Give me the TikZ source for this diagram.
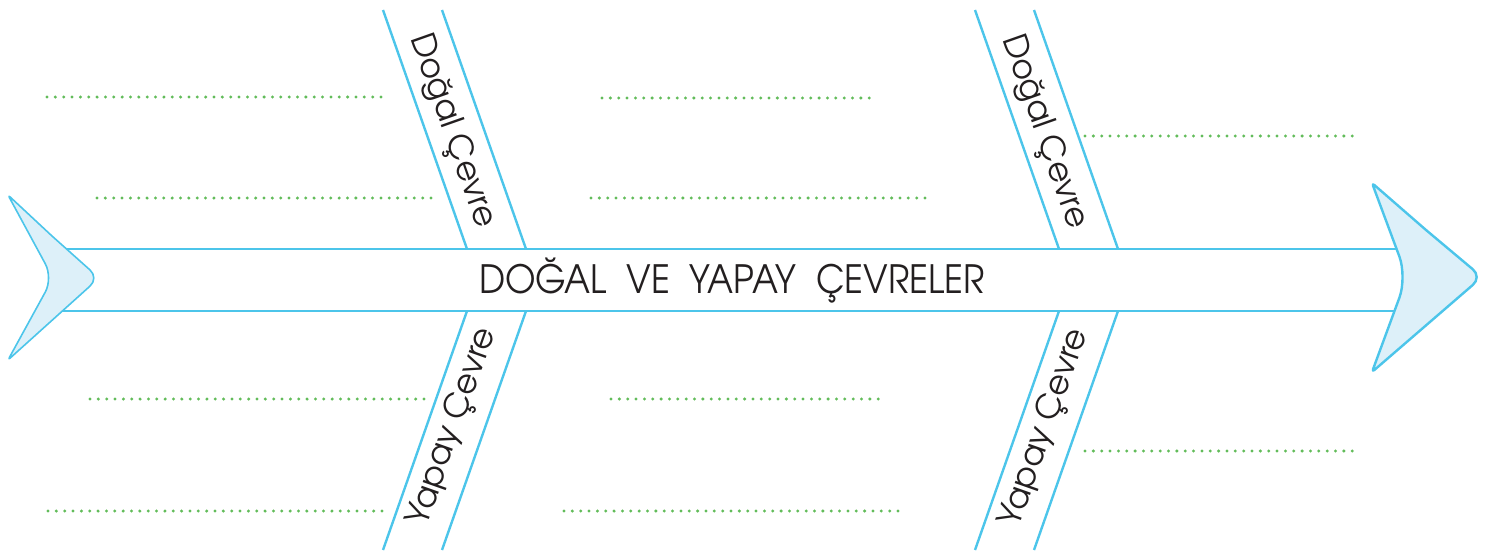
\documentclass[tikz,border=0pt]{standalone}
\usepackage{fontspec}
\setmainfont{TeX Gyre Adventor}
\newfontfamily\titlefont[FakeStretch=0.9]{TeX Gyre Adventor}
\definecolor{fishline}{HTML}{4CC5EA}
\definecolor{fishfill}{HTML}{DDF0F9}
\definecolor{dotgreen}{HTML}{62BC5A}
\definecolor{inkblack}{HTML}{231F20}

\begin{document}
\begin{tikzpicture}[x=1pt,y=-1pt,
  bone/.style={draw=fishline,line width=2.4pt},
  fin/.style={draw=fishline,fill=fishfill,line width=2pt,line join=round},
  dotrow/.style={draw=dotgreen,line width=3.3pt,line cap=round,dash pattern=on 0pt off 8.35pt},
  bandlabel/.style={text=inkblack,font=\fontsize{33}{33}\selectfont,inner sep=0pt},
  spinelabel/.style={text=inkblack,font=\titlefont\fontsize{39}{39}\selectfont,inner sep=0pt,anchor=base}]
  \useasboundingbox (0,0) rectangle (1493,552);

  % spine
  \path[bone] (60,249) -- (1400,249);
  \path[bone] (60,311) -- (1400,311);

  % tail and head
  \path[fin,line width=1.6pt] (52,236) [rounded corners=12pt] -- (99,278) [rounded corners=3pt] -- (8,360)
    [rounded corners=16pt] -- (53,278) [rounded corners=3pt] -- (8,195) -- cycle;
  \path[fin,line width=2.4pt] (1426,230) [rounded corners=12pt] -- (1482,277) [rounded corners=3pt] -- (1372,372)
    [rounded corners=22pt] -- (1407,277) [rounded corners=3pt] -- (1372,183) -- cycle;

  % bones
  \foreach \dx in {0,592} {
    \path[bone] (383+\dx,10) -- (467+\dx,249);
    \path[bone] (442+\dx,10) -- (526+\dx,249);
    \path[bone] (467+\dx,311) -- (383+\dx,550);
    \path[bone] (526+\dx,311) -- (442+\dx,550);
  }

  \node[spinelabel] (title) at (732,293) {DOĞAL\hspace{10pt} VE\hspace{10pt} YAPAY\hspace{10pt} ÇEVRELER};
  \node[bandlabel,rotate=-70.56] (natural1) at (452,131) {Doğal Çevre};
  \node[bandlabel,rotate=70.56] (built1) at (453,427) {Yapay Çevre};
  \node[bandlabel,rotate=-70.56] (natural2) at (1044,132) {Doğal Çevre};
  \node[bandlabel,rotate=70.56] (built2) at (1045,428) {Yapay Çevre};

  % writing lines
  \path[dotrow] (47,97) -- (384,97);
  \path[dotrow] (97,198) -- (433,198);
  \path[dotrow] (602,98) -- (876,98);
  \path[dotrow] (591,198) -- (928,198);
  \path[dotrow] (1085,136) -- (1359,136);
  \path[dotrow] (90,399) -- (427,399);
  \path[dotrow] (48,511) -- (384,511);
  \path[dotrow] (611,399) -- (885,399);
  \path[dotrow] (564,511) -- (902,511);
  \path[dotrow] (1085,451) -- (1359,451);
\end{tikzpicture}
\end{document}
